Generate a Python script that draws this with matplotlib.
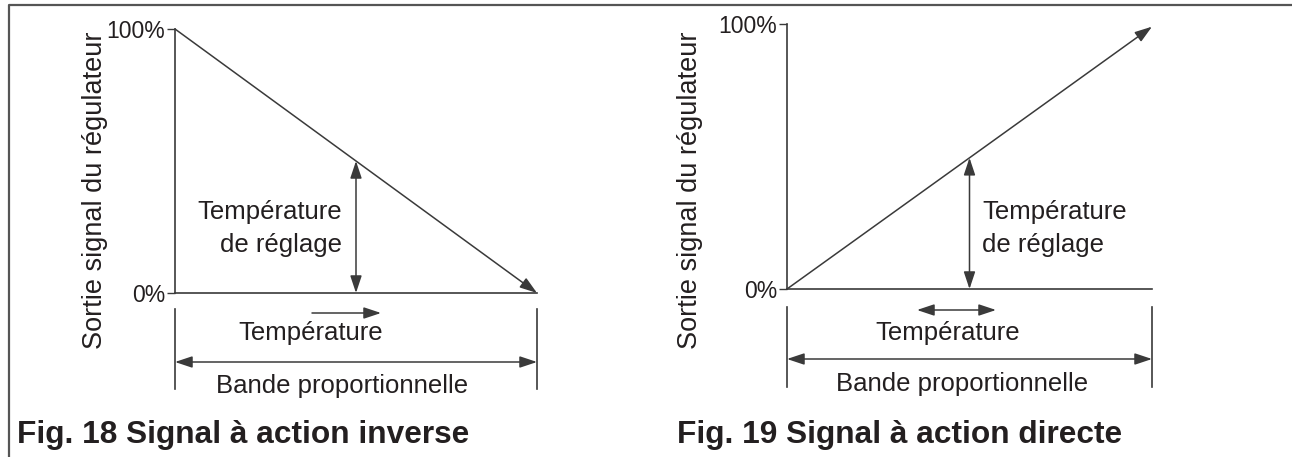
import numpy as np
import matplotlib
matplotlib.use("Agg")
import matplotlib.pyplot as plt

plt.rcParams['font.family'] = ['Liberation Sans', 'DejaVu Sans']

# ---- data ----
band_x = [0, 100]                 # position along the proportional band (%)
output_inverse = [100, 0]         # Fig. 18 : inverse action (%)
output_direct = [0, 99]           # Fig. 19 : direct action (%)
setpoint_band = 50                # setpoint position in the band (%)
tick_values = [0, 100]
tick_labels = ['0%', '100%']
y_label = 'Sortie signal du régulateur'
setpoint_lines = ['Température', 'de réglage']
temp_label = 'Température'
band_label = 'Bande proportionnelle'
captions = ['Fig. 18 Signal à action inverse', 'Fig. 19 Signal à action directe']

INK = '#231f20'
LINE = '#3a3a3a'
W, H = 1292, 457

fig = plt.figure(figsize=(W / 100, H / 100), dpi=100)
ov = fig.add_axes([0, 0, 1, 1])
ov.set_xlim(0, W)
ov.set_ylim(H, 0)
ov.axis('off')

# outer frame (top + left)
ov.plot([8.5, 8.5, W], [H, 4.5, 4.5], color='#555555', lw=1.6, solid_capstyle='butt')

def px_axes(x0, x1, y0, y100):
    return fig.add_axes([x0 / W, (H - y0) / H, (x1 - x0) / W, (y0 - y100) / H])

def arrow(ax, p0, p1, style, lw=1.1):
    ax.annotate('', xy=p1, xytext=p0,
                arrowprops=dict(arrowstyle=style + ',head_length=1.05,head_width=0.35',
                                color=LINE, lw=lw, shrinkA=0, shrinkB=0,
                                mutation_scale=10),
                annotation_clip=False)

panels = [
    dict(out=output_inverse, x0=175, x1=537, y0=293, y100=29, ylab_x=95, ylab_y=190,
         sp_x=342, sp_ha='right', temp_arrow=(312, 381, 313, '-|>'), temp_x=311,
         tick_top=309, tick_bot=389, band_y=362, band_text_x=342, band_text_y=393,
         cap_x=17),
    dict(out=output_direct, x0=787, x1=1152, y0=289, y100=24, ylab_x=690, ylab_y=190,
         sp_x=982, sp_ha='left', temp_arrow=(917, 996, 310, '<|-|>'), temp_x=948,
         tick_top=307, tick_bot=387, band_y=359, band_text_x=962, band_text_y=391,
         cap_x=677),
]

for p, cap in zip(panels, captions):
    ax = px_axes(p['x0'], p['x1'], p['y0'], p['y100'])
    ax.set_xlim(band_x[0], band_x[-1])
    ax.set_ylim(tick_values[0], tick_values[-1])
    ax.patch.set_visible(False)
    for s in ['top', 'right']:
        ax.spines[s].set_visible(False)
    for s in ['left', 'bottom']:
        ax.spines[s].set_color(LINE)
        ax.spines[s].set_linewidth(1.2)
    ax.set_xticks([])
    ax.set_yticks(tick_values)
    ax.set_yticklabels(tick_labels)
    ax.tick_params(axis='y', direction='out', length=5.5, width=1.0, color=LINE,
                   pad=1.5, labelsize=16.5, labelcolor=INK)

    # main characteristic line
    arrow(ax, (band_x[0], p['out'][0]), (band_x[-1], p['out'][-1]), '-|>', lw=1.1)
    # setpoint double arrow up to the line
    y_sp = np.interp(setpoint_band, band_x, p['out'])
    arrow(ax, (setpoint_band, 0), (setpoint_band, y_sp), '<|-|>', lw=1.1)

    # overlay annotations (pixel coordinates)
    ov.text(p['ylab_x'], p['ylab_y'], y_label, rotation=90, ha='center', va='center',
            fontsize=19.5, color=INK)
    ov.text(p['sp_x'], 219, setpoint_lines[0], ha=p['sp_ha'], va='baseline',
            fontsize=18.5, color=INK)
    ov.text(p['sp_x'], 252, setpoint_lines[1], ha=p['sp_ha'], va='baseline',
            fontsize=18.5, color=INK)
    tx0, tx1, ty, tst = p['temp_arrow']
    arrow(ov, (tx0, ty), (tx1, ty), tst, lw=1.1)
    ov.text(p['temp_x'], 340, temp_label, ha='center', va='baseline',
            fontsize=18.5, color=INK)
    for xx in (p['x0'], p['x1']):
        ov.plot([xx, xx], [p['tick_top'], p['tick_bot']], color=LINE, lw=1.2)
    arrow(ov, (p['x0'], p['band_y']), (p['x1'], p['band_y']), '<|-|>', lw=1.1)
    ov.text(p['band_text_x'], p['band_text_y'], band_label, ha='center', va='baseline',
            fontsize=18.5, color=INK)
    ov.text(p['cap_x'], 443, cap, ha='left', va='baseline', fontsize=22.8,
            fontweight='bold', color=INK)

fig.savefig('out.png', dpi=100)
